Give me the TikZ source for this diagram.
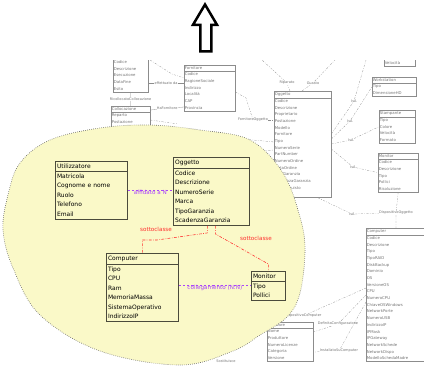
\documentclass[tikz,border=0pt]{standalone}
\usepackage{fontspec}
\setmainfont{DejaVu Sans}
\usepackage{xcolor}
\usepackage{tikz}
\usetikzlibrary{positioning,shapes}
\definecolor{giallino}{RGB}{250,249,200}
\definecolor{bordo}{RGB}{75,75,60}
\definecolor{viola}{RGB}{170,70,250}
\definecolor{rosso}{RGB}{255,45,45}
\tikzstyle{classe}=[rectangle split, rectangle split parts=2, draw=bordo, line width=0.9pt,
        anchor=north west, align=left, inner xsep=2.5pt, inner ysep=3.3pt,
        font=\fontsize{8.5}{13.5}\selectfont]
\tikzstyle{grigia}=[rectangle split, rectangle split parts=2, draw=black!45, line width=0.5pt,
        anchor=north west, align=left, inner xsep=1pt, inner ysep=2pt, text=black!55,
        font=\fontsize{5.5}{9.5}\selectfont]
\tikzstyle{legame}=[draw=black!45, line width=0.4pt]
\tikzstyle{tratto}=[legame, dash pattern=on 3pt off 2pt on 1pt off 2pt]
\tikzstyle{etichetta}=[font=\fontsize{5}{6}\selectfont, text=black!55, fill=white, inner sep=0.5pt]
\tikzstyle{relazione}=[draw=viola, dashed, line width=0.8pt]
\tikzstyle{sottoclasse}=[draw=rosso, dash pattern=on 4pt off 2pt on 1pt off 2pt, line width=0.8pt]

\begin{document}
\begin{tikzpicture}[x=0.5mm, y=-0.5mm]
\useasboundingbox (0,0) rectangle (424,368);

% freccia in alto
\draw[line width=3.56pt, line join=miter] (205,4.5) -- (217,24.8) -- (211.4,24.8) -- (211.4,51.4)
  -- (200.3,51.4) -- (200.3,24.8) -- (193,24.8) -- cycle;

\begin{scope}
\clip (0,60) rectangle (424,368);

% resto dello schema, in grigio
\node (Intervento) [grigia, anchor=south west, text width=16.8mm] at (113,92)
  {Intervento \nodepart{second} Codice\\Descrizione\\Esecuzione\\DataFine\\Esito};
\node (Collocazione) [grigia, text width=18.8mm] at (111,106)
  {Collocazione \nodepart{second} Reparto\\Postazione\\Stanza\\Piano};
\node (Fornitore) [grigia, text width=24.8mm] at (184,65)
  {Fornitore \nodepart{second} Codice\\RagioneSociale\\Indirizzo\\Località\\CAP\\Provincia};
\node (Oggetto2) [grigia, text width=27.8mm] at (274,91)
  {Oggetto \nodepart{second} Codice\\Descrizione\\Proprietario\\Postazione\\Modello\\Fornitore\\Tipo\\NumeroSerie\\PartNumber\\NumeroOrdine\\DataOrdine\\TipoGaranzia\\ScadenzaGaranzia\\DataAcquisto\\Note};
\node (Rete) [grigia, anchor=south west, text width=14.8mm] at (384,66)
  {Rete \nodepart{second} Tipo\\Velocità};
\node (Workstation) [grigia, text width=21.3mm] at (372,77)
  {Workstation \nodepart{second} Tipo\\DimensioneHD};
\node (Stampante) [grigia, text width=17.3mm] at (379,110)
  {Stampante \nodepart{second} Tipo\\Colore\\Velocità\\Formato};
\node (Monitor2) [grigia, text width=19.3mm] at (378,153)
  {Monitor \nodepart{second} Codice\\Descrizione\\Tipo\\Pollici\\Risoluzione};
\node (Computer2) [grigia, text width=30.3mm] at (366,228)
  {Computer \nodepart{second} Codice\\Descrizione\\Tipo\\TipoRAID\\DiskBackup\\Dominio\\OS\\VersioneOS\\CPU\\NumeroCPU\\ChiaveOSWindows\\NetworkPorte\\NumeroUSB\\IndirizzoIP\\IPMask\\IPGateway\\NetworkSchede\\NetworkDispo\\ModelloSchedaMadre};
\node (Software) [grigia, text width=22.3mm] at (267,322)
  {Software \nodepart{second} Nome\\Produttore\\NumeroLicenze\\Categoria\\Versione};

\node (Rip) [etichetta] at (287,83) {Riparato};
\node (Gua) [etichetta] at (313,83) {Guasto};
\node (FO) [etichetta] at (253,120) {FornitoreOggetto};
\node (isa1) [etichetta] at (354,101) {IsA};
\node (isa2) [etichetta] at (350,121) {IsA};
\node (isa3) [etichetta] at (351,140) {IsA};
\node (isa4) [etichetta] at (353,167) {IsA};
\node (isa5) [etichetta] at (352,214) {IsA};
\node (dispO) [etichetta] at (396,213) {DispositivoOggetto};
\node (dispC) [etichetta] at (303,316) {DispositivoComputer};
\node (defC) [etichetta] at (338,324) {DefinitaConfigurazione};
\node (instC) [etichetta] at (339,351) {InstallatoSuComputer};
\node (sost) [etichetta] at (226,361) {Sostituisce};

\coordinate (cA) at (150,60);
\coordinate (cB) at (178,124);
\coordinate (su1) at (262,60);
\coordinate (su2) at (335,60);
\coordinate (su3) at (366,60);
\coordinate (cC) at (232,138);
\coordinate (cD) at (246,152);
\coordinate (cE) at (262,318);

\draw[legame] (Intervento.east |- 0,83) -- (Fornitore.west |- 0,83) node[etichetta, midway] (eff) {effettuato da};
\draw[legame] (Intervento.south) -- (Collocazione.north) node[etichetta, midway] (ric) {RicollocatoCollocazione};
\draw[legame] (Collocazione.east |- 0,110) -- (Fornitore.west |- 0,107) node[etichetta, midway] (haf) {HaFornitore};
\draw[tratto] (cA) -- (172,74) -- (Fornitore.west |- 0,78);
\draw[tratto] (Collocazione.east |- 0,120) -- (cB);
\draw[tratto] (Fornitore.east |- 0,92) -- (246,98) -- (FO);
\draw[tratto] (FO) -- (Oggetto2.west |- FO);
\draw[tratto] (cC) -- (Oggetto2.west |- 0,142);
\draw[tratto] (cD) -- (Oggetto2.west |- 0,150);
\draw[tratto] (Oggetto2.north -| 290,0) -- (Rip) -- (su1);
\draw[tratto] (Oggetto2.north -| 302,0) -- (Gua) -- (su2);
\draw[tratto] (Oggetto2.east |- 0,134) -- (isa1) -- (su3);
\draw[tratto] (Oggetto2.east |- 0,139) -- (isa2) -- (Workstation.west);
\draw[tratto] (Oggetto2.east |- 0,144) -- (isa3) -- (Stampante.west);
\draw[tratto] (Oggetto2.east |- 0,149) -- (isa4) -- (Monitor2.west);
\draw[tratto] (Oggetto2.south -| 318,0) -- (isa5) -- (dispO);
\draw[tratto] (Monitor2.south) -- (dispO) -- (Computer2.north -| dispO);
\draw[tratto] (Computer2.west |- 0,288) -- (dispC) -- (cE);
\draw[tratto] (Computer2.west |- 0,295) -- (defC) -- (Software.east |- 0,332);
\draw[tratto] (Computer2.west |- 0,302) -- (instC) -- (Software.east |- 0,352);

% zona evidenziata
\draw[fill=giallino, draw=black!60, dotted, line width=0.9pt] plot[smooth cycle, tension=0.6] coordinates
  {(150,125) (200,130) (250,140) (283,173) (300,217) (305,250) (300,293) (287,317) (260,335)
   (233,351) (180,365) (100,351) (40,315) (13,268) (3,230) (8,195) (20,163) (50,140) (100,128)};
\end{scope}

\node (Utilizzatore) [classe, text width=34.3mm] at (55,161)
  {Utilizzatore \nodepart{second} Matricola\\Cognome e nome\\Ruolo\\Telefono\\Email};
\node (Oggetto) [classe, text width=36.3mm] at (173,157)
  {Oggetto \nodepart{second} Codice\\Descrizione\\NumeroSerie\\Marca\\TipoGaranzia\\ScadenzaGaranzia};
\node (Computer) [classe, text width=34.3mm] at (106,253)
  {Computer \nodepart{second} Tipo\\CPU\\Ram\\MemoriaMassa\\SistemaOperativo\\IndirizzoIP};
\node (Monitor) [classe, text width=15.3mm] at (251,271)
  {Monitor \nodepart{second} Tipo\\Pollici};

\draw[relazione] (Utilizzatore.east) -- (Oggetto.west |- Utilizzatore.east)
  node[midway, below=-4pt, text=viola, font=\fontsize{8}{10}\selectfont] (affidato) {affidato a N};
\draw[relazione] (Computer.east |- 0,285) -- (Monitor.west |- 0,285)
  node[midway, below=-4pt, text=viola, font=\fontsize{8}{10}\selectfont] (collegamento) {collegamento (N:N)};
\draw[sottoclasse] ([xshift=-2mm]Oggetto.south) -- ++(0,7) -- (157,240) -- (Computer.north |- 0,240) -- (Computer.north);
\draw[sottoclasse] ([xshift=2mm]Oggetto.south) -- ++(0,8) -- (Monitor.north |- 0,264) -- (Monitor.north);
\node (sc1) [text=rosso, font=\fontsize{8}{10}\selectfont] at (156,229) {sottoclasse};
\node (sc2) [text=rosso, font=\fontsize{8}{10}\selectfont] at (256,238) {sottoclasse};
\end{tikzpicture}
\end{document}
